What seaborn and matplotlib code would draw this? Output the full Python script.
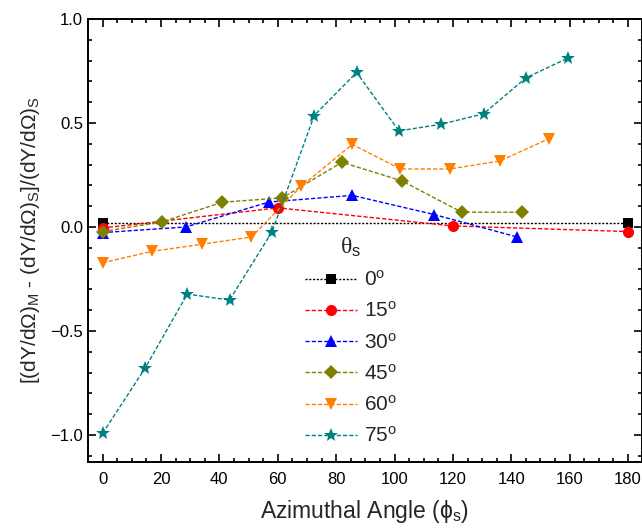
import matplotlib
matplotlib.use("Agg")
import matplotlib.pyplot as plt
from matplotlib.ticker import MultipleLocator
import seaborn as sns
import pandas as pd

# Relative yield difference vs azimuthal angle for several polar angles theta_s
theta_labels = ["0$^{o}$", "15$^{o}$", "30$^{o}$", "45$^{o}$", "60$^{o}$", "75$^{o}$"]

phi_0 = [0, 180]
val_0 = [0.02, 0.02]

phi_15 = [0, 60, 120, 180]
val_15 = [-0.005, 0.092, 0.005, -0.022]

phi_30 = [0, 28.5, 57, 85.5, 113.5, 142]
val_30 = [-0.027, 0.0, 0.12, 0.152, 0.06, -0.048]

phi_45 = [0, 20.5, 41, 61.5, 82, 102.5, 123, 143.5]
val_45 = [-0.022, 0.025, 0.119, 0.14, 0.311, 0.222, 0.071, 0.071]

phi_60 = [0, 17, 34, 51, 68, 85.5, 102, 119, 136, 153]
val_60 = [-0.172, -0.117, -0.083, -0.048, 0.195, 0.397, 0.279, 0.279, 0.317, 0.425]

phi_75 = [0, 14.5, 29, 43.5, 58, 72.5, 87, 101.5, 116, 130.5, 145, 159.5]
val_75 = [-0.992, -0.68, -0.323, -0.351, -0.024, 0.536, 0.743, 0.462, 0.494, 0.544, 0.717, 0.813]

colors = ["#000000", "#FF0000", "#0000FF", "#808000", "#FF8000", "#008080"]
markers = ["s", "o", "^", "D", "v", "*"]
msizes = [7.0, 8.0, 8.0, 6.8, 8.0, 10.3]
dash_styles = [(1.5, 1.2), (3, 1.5), (3, 1.5), (3, 1.5), (3, 1.5), (3, 1.5)]

series = [(phi_0, val_0), (phi_15, val_15), (phi_30, val_30),
          (phi_45, val_45), (phi_60, val_60), (phi_75, val_75)]

frames = []
for lab, (p, v) in zip(theta_labels, series):
    frames.append(pd.DataFrame({"phi": p, "val": v, "theta": lab}))
df = pd.concat(frames, ignore_index=True)

sns.set_theme(style="ticks")
plt.rcParams["font.family"] = ["Liberation Sans", "DejaVu Sans"]
plt.rcParams["mathtext.fontset"] = "custom"
plt.rcParams["mathtext.rm"] = "Liberation Sans"
plt.rcParams["mathtext.it"] = "Liberation Sans"
plt.rcParams["mathtext.bf"] = "Liberation Sans:bold"
plt.rcParams["mathtext.tt"] = "Liberation Serif"

fig = plt.figure(figsize=(6.42, 5.30), dpi=100)
ax = fig.add_axes([88 / 642, 1 - 462 / 530, (641.5 - 88) / 642, (462 - 19) / 530])

sns.lineplot(data=df, x="phi", y="val", hue="theta", style="theta",
             hue_order=theta_labels, style_order=theta_labels,
             palette=colors, markers=markers, dashes=dash_styles,
             linewidth=1.0, markeredgewidth=0, legend=False, ax=ax,
             estimator=None, sort=False)

for line, ms in zip(ax.lines, msizes):
    line.set_markersize(ms)

ax.set_xlim(-5, 184.6)
ax.set_ylim(-1.13, 1.0)
ax.xaxis.set_major_locator(MultipleLocator(20))
ax.xaxis.set_minor_locator(MultipleLocator(5))
ax.yaxis.set_major_locator(MultipleLocator(0.5))
ax.yaxis.set_minor_locator(MultipleLocator(0.1))
ax.tick_params(which="both", direction="in", top=True, right=True,
               labelsize=12, width=1.2, colors="black")
ax.tick_params(which="major", length=6)
ax.tick_params(which="minor", length=3)
ax.tick_params(axis="x", which="major", pad=7)
for sp in ax.spines.values():
    sp.set_linewidth(1.4)
    sp.set_color("black")

ax.set_xlabel("Azimuthal Angle ($\\phi_{s}$)", fontsize=16.5, labelpad=8)
ax.set_ylabel("[(dY/d$\\Omega$)$_{M}$ - (dY/d$\\Omega$)$_{S}$]/(dY/d$\\Omega$)$_{S}$",
              fontsize=15, labelpad=6)

leg = ax.legend(handles=ax.lines, labels=theta_labels, title="$\\mathtt{\\theta}_{s}$",
                frameon=False, fontsize=15, title_fontsize=17,
                handlelength=2.5, handletextpad=0.35, labelspacing=0.54,
                loc="upper left", bbox_to_anchor=((286 - 88) / 553.5, (462 - 216) / 443))

fig.savefig("out.png", dpi=100)
